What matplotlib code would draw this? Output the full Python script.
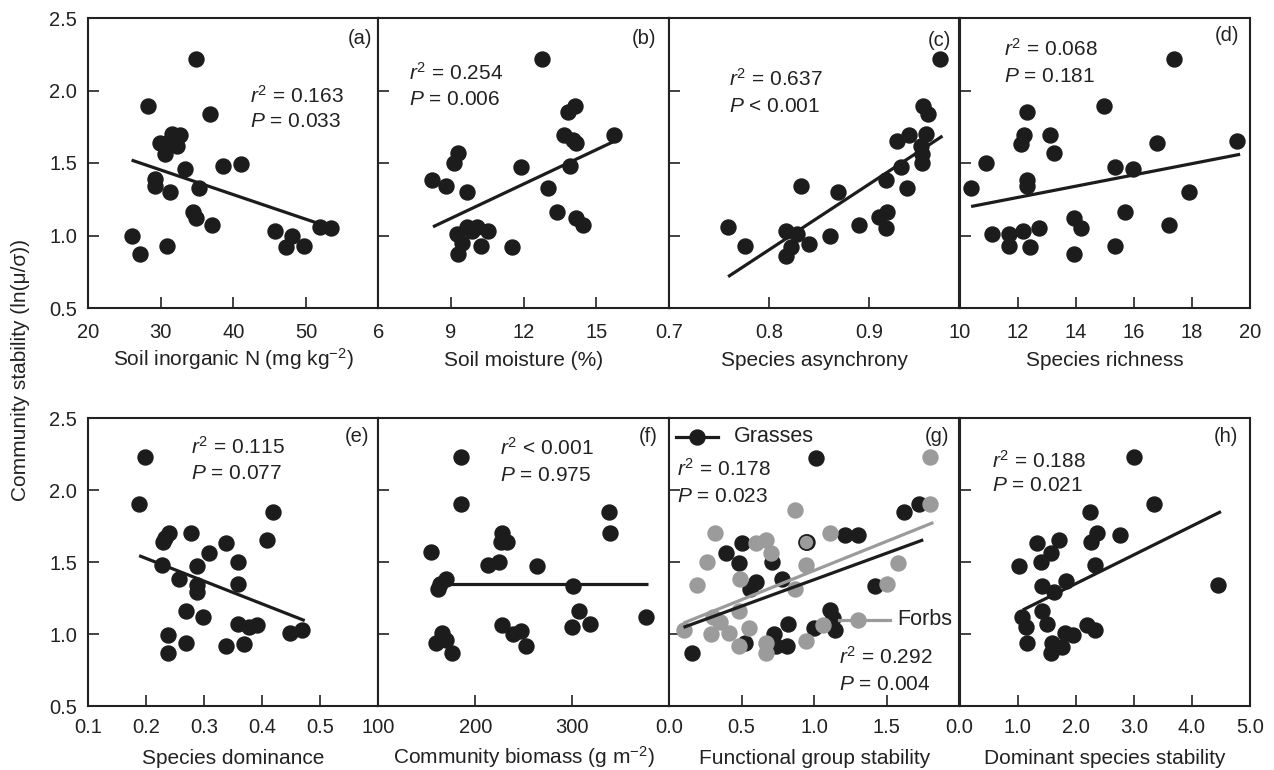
import matplotlib
matplotlib.use('Agg')
import matplotlib.pyplot as plt

plt.rcParams['font.family'] = ['Liberation Sans', 'DejaVu Sans']
plt.rcParams['mathtext.fontset'] = 'custom'
plt.rcParams['mathtext.rm'] = 'Liberation Sans'
plt.rcParams['mathtext.it'] = 'Liberation Sans:italic'
plt.rcParams['mathtext.bf'] = 'Liberation Sans:bold'

# ---------------- data ----------------
# (a) Soil inorganic N
a_x = [34.85, 28.2, 36.8, 29.9, 31.5, 32.6, 32.2, 30.6, 31.3, 33.4, 38.6, 41.1, 29.2, 29.2,
       31.3, 35.3, 34.4, 34.9, 37.1, 26.0, 27.2, 30.9, 45.7, 48.1, 47.2, 49.7, 51.9, 53.5]
a_y = [2.22, 1.89, 1.84, 1.64, 1.70, 1.69, 1.62, 1.56, 1.65, 1.46, 1.48, 1.49, 1.39, 1.34,
       1.30, 1.33, 1.16, 1.12, 1.07, 1.00, 0.87, 0.93, 1.03, 1.00, 0.92, 0.93, 1.06, 1.05]
a_fit_x = [26.0, 51.9]
a_fit_y = [1.52, 1.08]

# (b) Soil moisture
b_x = [12.77, 14.10, 13.82, 13.68, 14.16, 14.05, 15.74, 9.30, 9.10, 11.90, 13.89, 8.21, 8.79,
       9.64, 13.0, 13.38, 14.16, 14.44, 9.64, 10.05, 10.53, 9.26, 9.44, 10.22, 9.30, 9.85, 11.53]
b_y = [2.22, 1.89, 1.85, 1.69, 1.64, 1.66, 1.69, 1.57, 1.50, 1.47, 1.48, 1.38, 1.34,
       1.30, 1.33, 1.16, 1.12, 1.07, 1.06, 1.06, 1.03, 1.01, 0.95, 0.93, 0.87, 1.03, 0.92]
b_fit_x = [8.25, 15.74]
b_fit_y = [1.06, 1.65]

# (c) Species asynchrony
c_x = [0.971, 0.954, 0.959, 0.940, 0.928, 0.957, 0.952, 0.953, 0.953, 0.932, 0.917, 0.938,
       0.832, 0.869, 0.910, 0.918, 0.917, 0.890, 0.861, 0.840, 0.817, 0.828, 0.822, 0.817,
       0.759, 0.776]
c_y = [2.22, 1.89, 1.84, 1.69, 1.65, 1.70, 1.62, 1.56, 1.50, 1.47, 1.38, 1.33,
       1.34, 1.30, 1.13, 1.16, 1.05, 1.07, 1.00, 0.94, 1.03, 1.01, 0.92, 0.86,
       1.06, 0.93]
c_fit_x = [0.759, 0.973]
c_fit_y = [0.716, 1.686]

# (d) Species richness
d_x = [10.40, 10.90, 11.13, 11.72, 11.72, 12.18, 12.42, 12.73, 12.34, 12.22, 12.13, 12.34,
       12.34, 13.12, 13.24, 13.94, 14.17, 13.94, 14.99, 15.37, 15.98, 15.69, 15.37, 16.80,
       17.38, 17.21, 17.91, 19.54]
d_y = [1.33, 1.50, 1.01, 1.01, 0.93, 1.03, 0.92, 1.05, 1.85, 1.69, 1.63, 1.38,
       1.34, 1.69, 1.57, 1.12, 1.05, 0.87, 1.89, 1.47, 1.46, 1.16, 0.93, 1.64,
       2.22, 1.07, 1.30, 1.65]
d_fit_x = [10.40, 19.66]
d_fit_y = [1.20, 1.56]

# (e) Species dominance
e_x = [0.198, 0.188, 0.239, 0.229, 0.233, 0.278, 0.308, 0.338, 0.358, 0.288, 0.227, 0.256,
       0.288, 0.288, 0.358, 0.418, 0.408, 0.268, 0.298, 0.358, 0.377, 0.391, 0.238, 0.238,
       0.268, 0.338, 0.368, 0.448, 0.468]
e_y = [2.23, 1.90, 1.70, 1.64, 1.67, 1.70, 1.56, 1.63, 1.50, 1.47, 1.48, 1.38,
       1.34, 1.29, 1.35, 1.85, 1.65, 1.16, 1.12, 1.07, 1.05, 1.06, 0.99, 0.87,
       0.94, 0.92, 0.93, 1.01, 1.03]
e_fit_x = [0.188, 0.473]
e_fit_y = [1.544, 1.093]

# (f) Community biomass
f_x = [185, 185, 154, 170, 163, 161, 228, 226, 233, 213, 224, 264, 338, 339, 301, 307, 318,
       300, 376, 166, 159, 170, 176, 228, 239, 247, 252]
f_y = [2.23, 1.90, 1.57, 1.38, 1.35, 1.31, 1.70, 1.64, 1.64, 1.48, 1.50, 1.47, 1.85, 1.70,
       1.33, 1.16, 1.07, 1.05, 1.12, 1.01, 0.94, 0.96, 0.87, 1.06, 1.00, 1.02, 0.92]
f_fit_x = [169, 378]
f_fit_y = [1.345, 1.345]

# (g) Functional group stability
g_grass_x = [1.01, 1.72, 1.62, 1.21, 1.30, 0.50, 0.39, 0.48, 0.71, 0.95, 0.60, 0.56, 0.78,
             1.42, 1.11, 1.13, 0.82, 1.00, 1.14, 0.72, 0.81, 0.74, 0.52, 0.16]
g_grass_y = [2.22, 1.90, 1.85, 1.69, 1.69, 1.63, 1.56, 1.49, 1.50, 1.64, 1.36, 1.31, 1.38,
             1.33, 1.17, 1.11, 1.07, 1.04, 1.03, 1.00, 0.92, 0.92, 0.94, 0.87]
g_forb_x = [1.80, 1.80, 0.87, 0.32, 0.60, 0.67, 0.70, 1.11, 0.26, 0.49, 0.94, 0.19,
            0.87, 1.58, 1.50, 0.30, 0.35, 0.48, 0.55, 0.10, 0.29, 0.41, 0.48, 0.67, 0.67,
            0.94, 1.06]
g_forb_y = [2.23, 1.90, 1.86, 1.70, 1.63, 1.65, 1.56, 1.70, 1.50, 1.38, 1.48, 1.34,
            1.31, 1.49, 1.35, 1.12, 1.08, 1.16, 1.04, 1.03, 1.00, 1.01, 0.92, 0.94, 0.87,
            0.95, 1.06]
# forb point drawn with a dark outline where it sits on a grass point
g_forb_edge_x = [0.94]
g_forb_edge_y = [1.64]
g_grass_fit_x = [0.11, 1.74]
g_grass_fit_y = [1.05, 1.65]
g_forb_fit_x = [0.11, 1.81]
g_forb_fit_y = [1.08, 1.77]

# (h) Dominant species stability
h_x = [3.00, 3.34, 2.25, 2.37, 2.26, 2.77, 1.34, 1.71, 1.57, 1.40, 1.02, 2.34, 1.83, 1.42,
       1.63, 4.45, 1.42, 1.07, 1.51, 1.15, 2.20, 2.34, 1.82, 1.95, 1.17, 1.60, 1.77, 1.57]
h_y = [2.23, 1.90, 1.85, 1.70, 1.64, 1.69, 1.63, 1.65, 1.56, 1.50, 1.47, 1.48, 1.37, 1.33,
       1.29, 1.34, 1.16, 1.12, 1.07, 1.05, 1.06, 1.03, 1.01, 0.99, 0.94, 0.94, 0.91, 0.87]
h_fit_x = [1.09, 4.50]
h_fit_y = [1.167, 1.85]

y_ticks = [0.5, 1.0, 1.5, 2.0, 2.5]
y_ticklabels = ['0.5', '1.0', '1.5', '2.0', '2.5']

# ---------------- figure ----------------
BLACK = '#1c1c1c'
GRAY = '#9b9b9b'
TXT = '#222222'
FS_TICK = 14.5
FS_LAB = 15
FS_STAT = 15
FS_TAG = 14.5
FS_LEG = 15.5

fig = plt.figure(figsize=(12.74, 7.70), dpi=100)

L = 88 / 1274
W = (1250 - 88) / 1274 / 4
rows = {0: (1 - 308 / 770, 290 / 770), 1: (1 - 706 / 770, 288 / 770)}
row_hpx = {0: 290.0, 1: 288.0}

panels = [
    dict(row=0, col=0, x=a_x, y=a_y, fx=a_fit_x, fy=a_fit_y, xlim=(20, 60),
         ticks=[20, 30, 40, 50, 60], labels=['20', '30', '40', '50', ''],
         xlabel='Soil inorganic N (mg kg$^{-2}$)', tag='(a)', tagpos=(0.979, 0.93),
         stats=[(r'$r^2$ = 0.163', 0.557, 0.731), (r'$P$ = 0.033', 0.557, 0.642)]),
    dict(row=0, col=1, x=b_x, y=b_y, fx=b_fit_x, fy=b_fit_y, xlim=(6, 18),
         ticks=[6, 9, 12, 15, 18], labels=['6', '9', '12', '15', ''],
         xlabel='Soil moisture (%)', tag='(b)', tagpos=(0.957, 0.93),
         stats=[(r'$r^2$ = 0.254', 0.104, 0.811), (r'$P$ = 0.006', 0.104, 0.72)]),
    dict(row=0, col=2, x=c_x, y=c_y, fx=c_fit_x, fy=c_fit_y, xlim=(0.7, 0.99),
         ticks=[0.7, 0.8, 0.9], labels=['0.7', '0.8', '0.9'],
         xlabel='Species asynchrony', tag='(c)', tagpos=(0.971, 0.924),
         stats=[(r'$r^2$ = 0.637', 0.207, 0.789), (r'$P$ < 0.001', 0.207, 0.694)]),
    dict(row=0, col=3, x=d_x, y=d_y, fx=d_fit_x, fy=d_fit_y, xlim=(10, 20),
         ticks=[10, 12, 14, 16, 18, 20], labels=['10', '12', '14', '16', '18', '20'],
         xlabel='Species richness', tag='(d)', tagpos=(0.962, 0.941),
         stats=[(r'$r^2$ = 0.068', 0.153, 0.892), (r'$P$ = 0.181', 0.153, 0.80)]),
    dict(row=1, col=0, x=e_x, y=e_y, fx=e_fit_x, fy=e_fit_y, xlim=(0.1, 0.6),
         ticks=[0.1, 0.2, 0.3, 0.4, 0.5, 0.6], labels=['0.1', '0.2', '0.3', '0.4', '0.5', ''],
         xlabel='Species dominance', tag='(e)', tagpos=(0.967, 0.935),
         stats=[(r'$r^2$ = 0.115', 0.356, 0.90), (r'$P$ = 0.077', 0.356, 0.806)]),
    dict(row=1, col=1, x=f_x, y=f_y, fx=f_fit_x, fy=f_fit_y, xlim=(100, 400),
         ticks=[100, 200, 300, 400], labels=['100', '200', '300', ''],
         xlabel='Community biomass (g m$^{-2}$)', tag='(f)', tagpos=(0.96, 0.935),
         stats=[(r'$r^2$ < 0.001', 0.418, 0.895), (r'$P$ = 0.975', 0.418, 0.802)]),
    dict(row=1, col=2, x=None, y=None, fx=None, fy=None, xlim=(0.0, 2.0),
         ticks=[0.0, 0.5, 1.0, 1.5, 2.0], labels=['0.0', '0.5', '1.0', '1.5', ''],
         xlabel='Functional group stability', tag='(g)', tagpos=(0.966, 0.935),
         stats=[(r'$r^2$ = 0.178', 0.029, 0.822), (r'$P$ = 0.023', 0.029, 0.729),
                (r'$r^2$ = 0.292', 0.586, 0.171), (r'$P$ = 0.004', 0.586, 0.076)]),
    dict(row=1, col=3, x=h_x, y=h_y, fx=h_fit_x, fy=h_fit_y, xlim=(0.0, 5.0),
         ticks=[0, 1, 2, 3, 4, 5], labels=['0.0', '1.0', '2.0', '3.0', '4.0', '5.0'],
         xlabel='Dominant species stability', tag='(h)', tagpos=(0.96, 0.935),
         stats=[(r'$r^2$ = 0.188', 0.113, 0.851), (r'$P$ = 0.021', 0.113, 0.767)]),
]

MS = 10.8
LW = 2.3

for p in panels:
    b, h = rows[p['row']]
    ax = fig.add_axes([L + p['col'] * W, b, W, h])
    ax.set_xlim(*p['xlim'])
    ax.set_ylim(0.5, 2.5)
    for s in ax.spines.values():
        s.set_linewidth(1.5)
        s.set_color(TXT)
    ax.set_xticks(p['ticks'])
    ax.set_xticklabels(p['labels'])
    ax.set_yticks(y_ticks)
    if p['col'] == 0:
        ax.set_yticklabels(y_ticklabels)
    else:
        ax.set_yticklabels([])
    ax.tick_params(direction='in', length=8, width=1.2, colors=TXT, labelsize=FS_TICK,
                   top=False, right=False)
    ax.tick_params(axis='x', pad=11 if p['row'] == 0 else 8.5)
    ax.tick_params(axis='y', pad=8)
    # x label placed with its baseline ~58 px below the bottom spine
    ax.text(0.5, -58.0 / row_hpx[p['row']], p['xlabel'], transform=ax.transAxes,
            fontsize=FS_LAB, color=TXT, ha='center', va='baseline')

    if p['x'] is not None:
        ax.plot(p['x'], p['y'], 'o', ms=MS, color=BLACK, mec=BLACK, zorder=3)
        ax.plot(p['fx'], p['fy'], '-', color=BLACK, lw=LW, zorder=4, solid_capstyle='butt')
    else:
        ax.plot(g_grass_x, g_grass_y, 'o', ms=MS, color=BLACK, mec=BLACK, zorder=3)
        ax.plot(g_forb_x, g_forb_y, 'o', ms=MS, color=GRAY, mec=GRAY, zorder=3.5)
        ax.plot(g_forb_edge_x, g_forb_edge_y, 'o', ms=MS, color=GRAY, mec=BLACK,
                mew=1.2, zorder=3.6)
        ax.plot(g_grass_fit_x, g_grass_fit_y, '-', color=BLACK, lw=LW, zorder=4)
        ax.plot(g_forb_fit_x, g_forb_fit_y, '-', color=GRAY, lw=LW, zorder=4)
        # in-axes legends
        ax.plot([0.023, 0.17], [0.935, 0.935], '-', color=BLACK, lw=LW,
                transform=ax.transAxes, zorder=5)
        ax.plot([0.098], [0.935], 'o', ms=MS, color=BLACK, transform=ax.transAxes, zorder=6)
        ax.text(0.224, 0.935, 'Grasses', transform=ax.transAxes, fontsize=FS_LEG,
                va='center', ha='left', color=TXT)
        ax.plot([0.586, 0.76], [0.299, 0.299], '-', color=GRAY, lw=LW,
                transform=ax.transAxes, zorder=5)
        ax.plot([0.649], [0.299], 'o', ms=MS, color=GRAY, transform=ax.transAxes, zorder=6)
        ax.text(0.787, 0.299, 'Forbs', transform=ax.transAxes, fontsize=FS_LEG,
                va='center', ha='left', color=TXT)

    ax.text(p['tagpos'][0], p['tagpos'][1], p['tag'], transform=ax.transAxes,
            fontsize=FS_TAG, ha='right', va='center', color=TXT)
    for txt, tx, ty in p['stats']:
        ax.text(tx, ty, txt, transform=ax.transAxes, fontsize=FS_STAT,
                ha='left', va='center', color=TXT, zorder=7)

fig.text(21 / 1274, 1 - 370 / 770, 'Community stability (ln(μ/σ))', rotation=90,
         ha='center', va='center', fontsize=15, color=TXT)

fig.savefig('out.png', dpi=100)
